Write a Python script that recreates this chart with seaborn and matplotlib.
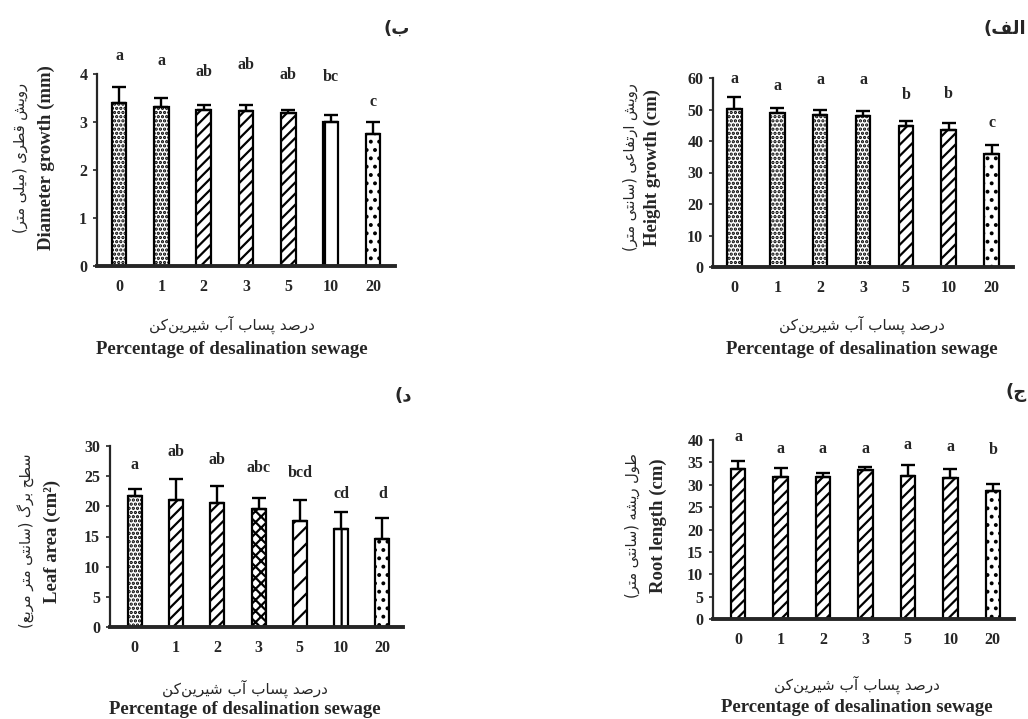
import numpy as np
import pandas as pd
import seaborn as sns
import matplotlib.pyplot as plt

# treatment levels (percentage of desalination sewage)
levels = ["0", "1", "2", "3", "5", "10", "20"]

# height growth (cm)
height_mean = [50.3, 48.9, 48.1, 47.9, 44.7, 43.6, 35.8]
height_sd = [3.7, 1.7, 1.8, 1.7, 1.6, 2.1, 2.8]
height_letters = ["a", "a", "a", "a", "b", "b", "c"]
height_letter_y = [59.6, 57.4, 59.3, 59.3, 54.5, 54.8, 45.7]

# diameter growth (mm)
diam_mean = [3.40, 3.31, 3.25, 3.23, 3.18, 3.01, 2.76]
diam_sd = [0.32, 0.18, 0.11, 0.13, 0.07, 0.14, 0.25]
diam_letters = ["a", "a", "ab", "ab", "ab", "bc", "c"]
diam_letter_y = [4.37, 4.28, 4.05, 4.19, 3.98, 3.93, 3.42]

# root length (cm)
root_mean = [33.5, 31.8, 31.75, 33.3, 32.0, 31.4, 28.5]
root_sd = [1.8, 2.0, 0.85, 0.75, 2.35, 2.1, 1.6]
root_letters = ["a", "a", "a", "a", "a", "a", "b"]
root_letter_y = [40.7, 37.9, 38.1, 38.1, 38.9, 38.4, 37.8]

# leaf area (cm2)
leaf_mean = [21.75, 21.1, 20.6, 19.6, 17.6, 16.2, 14.55]
leaf_sd = [1.2, 3.5, 2.75, 1.7, 3.4, 2.9, 3.45]
leaf_letters = ["a", "ab", "ab", "abc", "bcd", "cd", "d"]
leaf_letter_y = [26.8, 29.05, 27.7, 26.3, 25.6, 22.0, 22.1]

W, H = 1028, 719

# simple Persian shaping (presentation forms) + visual order, since matplotlib has no bidi
FORMS = {
    "\u0627": ("\uFE8D", "\uFE8E", None, None),
    "\u0622": ("\uFE81", "\uFE82", None, None),
    "\u0628": ("\uFE8F", "\uFE90", "\uFE91", "\uFE92"),
    "\u067E": ("\uFB56", "\uFB57", "\uFB58", "\uFB59"),
    "\u062A": ("\uFE95", "\uFE96", "\uFE97", "\uFE98"),
    "\u062C": ("\uFE9D", "\uFE9E", "\uFE9F", "\uFEA0"),
    "\u062D": ("\uFEA1", "\uFEA2", "\uFEA3", "\uFEA4"),
    "\u062F": ("\uFEA9", "\uFEAA", None, None),
    "\u0631": ("\uFEAD", "\uFEAE", None, None),
    "\u0633": ("\uFEB1", "\uFEB2", "\uFEB3", "\uFEB4"),
    "\u0634": ("\uFEB5", "\uFEB6", "\uFEB7", "\uFEB8"),
    "\u0635": ("\uFEB9", "\uFEBA", "\uFEBB", "\uFEBC"),
    "\u0637": ("\uFEC1", "\uFEC2", "\uFEC3", "\uFEC4"),
    "\u0639": ("\uFEC9", "\uFECA", "\uFECB", "\uFECC"),
    "\u0641": ("\uFED1", "\uFED2", "\uFED3", "\uFED4"),
    "\u0642": ("\uFED5", "\uFED6", "\uFED7", "\uFED8"),
    "\u06A9": ("\uFB8E", "\uFB8F", "\uFB90", "\uFB91"),
    "\u06AF": ("\uFB92", "\uFB93", "\uFB94", "\uFB95"),
    "\u0644": ("\uFEDD", "\uFEDE", "\uFEDF", "\uFEE0"),
    "\u0645": ("\uFEE1", "\uFEE2", "\uFEE3", "\uFEE4"),
    "\u0646": ("\uFEE5", "\uFEE6", "\uFEE7", "\uFEE8"),
    "\u0647": ("\uFEE9", "\uFEEA", "\uFEEB", "\uFEEC"),
    "\u0648": ("\uFEED", "\uFEEE", None, None),
    "\u06CC": ("\uFBFC", "\uFBFD", "\uFBFE", "\uFBFF"),
}


def fa(s):
    out = []
    for i, ch in enumerate(s):
        if ch not in FORMS:
            if ch != "\u200c":
                out.append(ch)
            continue
        prev = s[i - 1] if i > 0 else ""
        nxt = s[i + 1] if i + 1 < len(s) else ""
        jp = prev in FORMS and FORMS[prev][2] is not None
        jn = FORMS[ch][2] is not None and nxt in FORMS
        iso, fin, ini, med = FORMS[ch]
        if jp and jn:
            out.append(med)
        elif jn:
            out.append(ini)
        elif jp:
            out.append(fin)
        else:
            out.append(iso)
    vis = "".join(reversed(out))
    return vis.translate(str.maketrans("()", ")("))


xlab_fa = fa("درصد پساب آب شیرین\u200cکن")
xlab_en = "Percentage of desalination sewage"

sns.set_style("ticks")
plt.rcParams["font.family"] = ["Liberation Serif", "DejaVu Sans"]
plt.rcParams["hatch.linewidth"] = 1.6
plt.rcParams["hatch.color"] = "black"

fig = plt.figure(figsize=(W / 100, H / 100), dpi=100)


def px(x, y):
    return x / W, 1 - y / H


def panel(box, mean, sd, letters, letter_y, hatches, ymax, ystep, xlim,
          ylab_en, ylab_fa, ylab_x, ylab_y, xlab_x, xlab_y, tag, tag_xy, tag_ha="center"):
    x0, y0, x1, y1 = box
    ax = fig.add_axes([x0 / W, 1 - y1 / H, (x1 - x0) / W, (y1 - y0) / H])
    df = pd.DataFrame({"level": levels, "value": mean})
    sns.barplot(data=df, x="level", y="value", order=levels, color="white",
                saturation=1, edgecolor="black", linewidth=1.6, width=0.34,
                errorbar=None, ax=ax)
    for p, h in zip(ax.patches, hatches):
        p.set_hatch(h)
    ax.errorbar(np.arange(len(levels)), mean, yerr=[np.zeros(len(sd)), sd],
                fmt="none", ecolor="black", elinewidth=1.7, capsize=5, capthick=1.7,
                zorder=5)
    for i, (lt, ly) in enumerate(zip(letters, letter_y)):
        ax.text(i, ly, lt, ha="center", va="center", fontsize=11.5,
                fontweight="bold", clip_on=False)
    ax.set_xlim(*xlim)
    ax.set_ylim(0, ymax)
    ax.set_yticks(np.arange(0, ymax + 0.01, ystep))
    ax.set_xlabel("")
    ax.set_ylabel("")
    sns.despine(ax=ax)
    ax.spines["left"].set_linewidth(1.6)
    ax.spines["bottom"].set_linewidth(2.8)
    ax.tick_params(axis="x", length=0, pad=9, labelsize=11.5)
    ax.tick_params(axis="y", length=3, width=1.2, pad=4, labelsize=11.5)
    for t in ax.get_xticklabels() + ax.get_yticklabels():
        t.set_fontweight("bold")

    fig.text(*px(ylab_x[0], ylab_y), ylab_fa, rotation=90, ha="center", va="center",
             fontsize=10.5, family=["DejaVu Sans"])
    fig.text(*px(ylab_x[1], ylab_y), ylab_en, rotation=90, ha="center", va="center",
             fontsize=13.5, fontweight="bold")
    fig.text(*px(xlab_x, xlab_y[0]), xlab_fa, ha="center", va="center",
             fontsize=11, family=["DejaVu Sans"])
    fig.text(*px(xlab_x, xlab_y[1]), xlab_en, ha="center", va="center",
             fontsize=13.5, fontweight="bold")
    fig.text(*px(*tag_xy), fa(tag), ha=tag_ha, va="center", fontsize=13,
             fontweight="bold", family=["DejaVu Sans"])
    return ax


DENSE = "...."
DIAG = "///"
SPARSE = ".."

# top-left: diameter growth
panel((97, 74, 395, 266), diam_mean, diam_sd, diam_letters, diam_letter_y,
      [DENSE, DENSE, DIAG, DIAG, DIAG, "|", SPARSE], 4, 1, (-0.52, 6.52),
      "Diameter growth (mm)", fa("رویش قطری (میلی متر)"), (20, 46), 158,
      232, (325, 349), "ب)", (397, 29))

# top-right: height growth
panel((713, 78, 1013, 267), height_mean, height_sd, height_letters, height_letter_y,
      [DENSE, DENSE, DENSE, DENSE, DIAG, DIAG, SPARSE], 60, 10, (-0.5, 6.5),
      "Height growth (cm)", fa("رویش ارتفاعی (سانتی متر)"), (630, 652), 167,
      862, (325, 349), "الف)", (1026, 29), "right")

# bottom-left: leaf area
panel((110, 446, 403, 627), leaf_mean, leaf_sd, leaf_letters, leaf_letter_y,
      [DENSE, DIAG, DIAG, "xxx", "//", "|", SPARSE], 30, 5, (-0.6, 6.5),
      "Leaf area (cm\u00b2)", fa("سطح برگ (سانتی متر مربع)"), (26, 52), 541,
      245, (689, 709), "د)", (403, 396))

# bottom-right: root length
panel((713, 440, 1014, 619), root_mean, root_sd, root_letters, root_letter_y,
      [DIAG, DIAG, DIAG, DIAG, DIAG, DIAG, SPARSE], 40, 5, (-0.59, 6.5),
      "Root length (cm)", fa("طول ریشه (سانتی متر)"), (632, 658), 526,
      857, (685, 708), "ج)", (1016, 393))

fig.savefig("out.png", dpi=100)
